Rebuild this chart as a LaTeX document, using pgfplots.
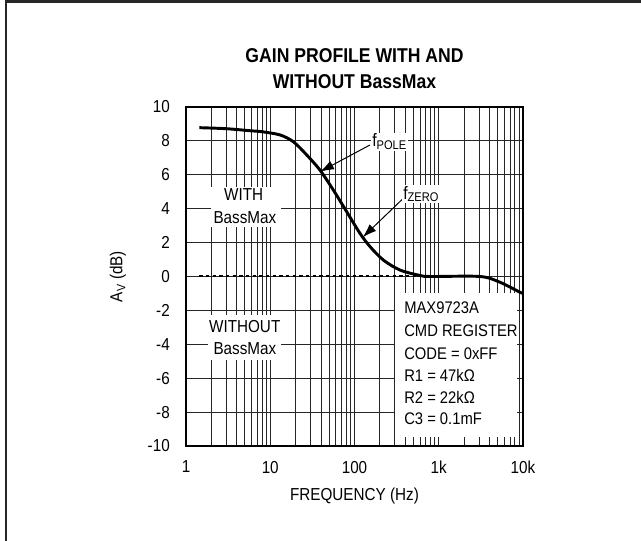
\documentclass[border=0pt]{standalone}
\usepackage{fontspec}
\setmainfont{Liberation Sans}[FakeStretch=0.88]
\usepackage{pgfplots}
\pgfplotsset{compat=1.18}
\usetikzlibrary{arrows.meta}

\begin{document}
\begin{tikzpicture}[x=0.75pt,y=0.75pt]
\path[use as bounding box] (0,0) rectangle (641,541);
% outer frame (top and left only)
\draw[line width=1.9pt, black!85] (6,-10) -- (6,539.5) -- (660,539.5);

\begin{axis}[
    at={(139.5pt,71.25pt)}, anchor=south west,
    scale only axis, width=252.75pt, height=254.25pt,
    xmode=log, xmin=1, xmax=10000,
    ymin=-10, ymax=10,
    xtick={1,10,100,1000,10000},
    xticklabels={1,10,100,1k,10k},
    ytick={-10,-8,-6,-4,-2,0,2,4,6,8,10},
    yticklabels={-10,-8,-6,-4,-2,0,2,4,6,8,10},
    major tick length=0pt, minor tick length=0pt,
    grid=both,
    major grid style={black!85, line width=0.6pt},
    minor grid style={black!85, line width=0.6pt},
    axis line style={line width=2pt},
    tick label style={font=\fontsize{13}{15}\selectfont},
    xticklabel style={anchor=north, inner sep=0pt, yshift=-11pt},
    yticklabel style={anchor=east, inner sep=0pt, xshift=-12pt},
]
% without BassMax (flat)
\addplot[black, line width=1.5pt, dash pattern=on 2.6pt off 2.4pt] coordinates {
  (1.44,0) (600,0)
};
% with BassMax
\addplot[black, line width=2.2pt, smooth] coordinates {
  (1.44,8.78) (3,8.72) (5.75,8.60) (8,8.54) (13.1,8.35) (18.8,7.95)
  (27.1,7.17) (38.9,6.28) (56.1,5.10) (80.8,3.82) (116,2.55)
  (153,1.76) (220,0.97) (347,0.38) (599,0.06) (800,0.0)
  (3090,0.0) (5333,-0.34) (9210,-0.93) (10000,-0.98)
};

% white label boxes
\fill[white] (axis cs:1.98,5.30) rectangle (axis cs:13.4,2.94);
\fill[white] (axis cs:1.81,-2.27) rectangle (axis cs:13.4,-4.93);
\fill[white] (axis cs:302.6,-0.97) rectangle (axis cs:8490,-9.47);

\node[anchor=base, inner sep=0pt, font=\fontsize{13}{15}\selectfont] at (axis cs:4.84,4.47) {WITH};
\node[anchor=base, inner sep=0pt, font=\fontsize{13}{15}\selectfont] at (axis cs:5.0,3.10) {BassMax};
\node[anchor=base, inner sep=0pt, font=\fontsize{13}{15}\selectfont] at (axis cs:4.98,-3.31) {WITHOUT};
\node[anchor=base, inner sep=0pt, font=\fontsize{13}{15}\selectfont] at (axis cs:5.0,-4.63) {BassMax};

\begin{scope}[every node/.style={anchor=base west, inner sep=0pt, font=\fontsize{12.6}{14}\selectfont}]
\node at (axis cs:386.9,-2.21) {MAX9723A};
\node at (axis cs:386.9,-3.55) {CMD REGISTER};
\node at (axis cs:386.9,-4.87) {CODE = 0xFF};
\node at (axis cs:386.9,-6.17) {R1 = 47kΩ};
\node at (axis cs:386.9,-7.48) {R2 = 22kΩ};
\node at (axis cs:386.9,-8.76) {C3 = 0.1mF};
\end{scope}

% pole / zero arrows
\draw[line width=0.75pt, -{Latex[length=10.5pt, width=7pt]}] (axis cs:152.8,7.76) -- (axis cs:38.9,6.18);
\draw[line width=0.75pt, -{Latex[length=10.5pt, width=7pt]}] (axis cs:379.6,4.61) -- (axis cs:125,2.31);
\node[anchor=base west, fill=white, inner sep=1pt, font=\fontsize{13.5}{15}\selectfont] at (axis cs:155.7,7.64) {f\textsubscript{POLE}};
\node[anchor=base west, fill=white, inner sep=1pt, font=\fontsize{13.5}{15}\selectfont] at (axis cs:363,4.57) {f\textsubscript{ZERO}};
\end{axis}

% title and axis labels
\node[align=center, font=\bfseries\fontsize{15}{19}\selectfont] at (354.5,472.5) {GAIN PROFILE WITH AND\\WITHOUT BassMax};
\node[anchor=base, font=\fontsize{13}{15}\selectfont] at (354.5,40.5) {FREQUENCY (Hz)};
\node[rotate=90, font=\fontsize{13}{15}\selectfont] at (118,264.5) {A\textsubscript{V} (dB)};
\end{tikzpicture}
\end{document}
